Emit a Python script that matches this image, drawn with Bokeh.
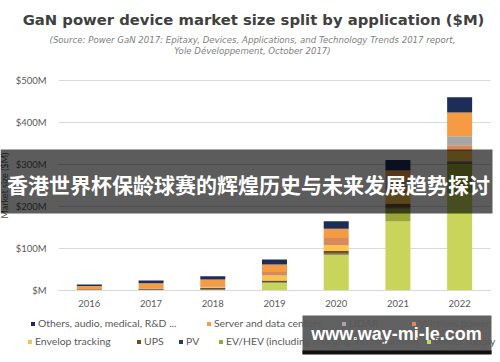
from bokeh.plotting import figure
from bokeh.models import (Range1d, FixedTicker, Label, BoxAnnotation, ColumnDataSource,
                          Legend, LegendItem)
from bokeh.embed import file_html
from bokeh.resources import INLINE

# ---------------- data ----------------
years = ["2016", "2017", "2018", "2019", "2020", "2021", "2022"]
series_names = [
    "Power supply",
    "EV/HEV (including charging infrastructure)",
    "PV",
    "UPS",
    "Envelop tracking",
    "Wireless power",
    "LIDAR",
    "Server and data centers",
    "Others, audio, medical, R&D ...",
]
power_supply = [1, 1, 2, 19, 86, 164, 232]
ev_hev = [0, 0, 0, 0, 0, 31, 70]
pv = [1, 1, 1, 1, 2, 3, 2]
ups = [1, 2, 3, 4, 6, 9, 4]
envelop = [0, 1, 2, 12, 14, 26, 24]
wireless = [0, 1, 2, 8, 17, 17, 14]
lidar = [0, 0, 0, 0, 0, 12, 21]
server = [8, 11, 16, 18, 22, 24, 57]
others = [3, 7, 8, 12, 18, 25, 36]
y_ticks = [0, 100, 200, 300, 400, 500]
y_tick_labels = ["$M", "$100M", "$200M", "$300M", "$400M", "$500M"]

colors = ["#c8d55a", "#9aa736", "#1f3f6e", "#7a4c14", "#f7c54c",
          "#d88a5c", "#a6a6a6", "#f49b43", "#1e2d57"]

title = "GaN power device market size split by application ($M)"
subtitle1 = "(Source: Power GaN 2017: Epitaxy, Devices, Applications, and Technology Trends 2017 report,"
subtitle2 = "Yole D\u00e9veloppement, October 2017)"
banner = "香港世界杯保龄球赛的辉煌历史与未来发展趋势探讨"
watermark = "www.way-mi-le.com"

# ---------------- layout (page pixels) ----------------
W, H = 500, 362
FL, FR, FT, FB = 58, 490, 80, 290            # plotting area inside the page
xnum = [int(y) for y in years]
x0, x1 = xnum[0] - 0.5, xnum[-1] + 0.5
kx = (FR - FL) / (x1 - x0)                  # px per category
ky = (FB - FT) / (y_ticks[-1] - y_ticks[0])  # px per $M
xr = Range1d(x0 - FL / kx, x1 + (W - FR) / kx)
yr = Range1d(y_ticks[0] - (H - FB) / ky, y_ticks[-1] + FT / ky)


def X(px):
    return xr.start + px / kx


def Y(py):
    return yr.end - py / ky


keys = ["ps", "ev", "pv", "ups", "env", "wl", "lidar", "srv", "oth"]
src = ColumnDataSource(dict(x=xnum, ps=power_supply, ev=ev_hev, pv=pv, ups=ups,
                            env=envelop, wl=wireless, lidar=lidar, srv=server, oth=others))

p = figure(x_range=xr, y_range=yr, width=W, height=H,
           output_backend="svg", toolbar_location=None, title_location=None,
           min_border=0, min_border_left=0, min_border_right=0,
           min_border_top=0, min_border_bottom=0)
p.outline_line_color = None
p.background_fill_color = "white"
p.border_fill_color = "white"
p.xgrid.visible = False
p.ygrid.visible = False

# horizontal grid lines across the plotting area
p.segment(x0=[x0] * len(y_ticks), x1=[x1] * len(y_ticks), y0=y_ticks, y1=y_ticks,
          line_color="#d9d9d9", line_width=1.2)

rs = p.vbar_stack(keys, x="x", width=0.405, color=colors, source=src, line_color=None)

# axes pinned to the plotting area
xa, ya = p.xaxis[0], p.yaxis[0]
xa.fixed_location = y_ticks[0]
ya.fixed_location = x0
xa.bounds = (x0, x1)
ya.bounds = (y_ticks[0], y_ticks[-1])
xa.ticker = FixedTicker(ticks=xnum)
xa.major_label_overrides = {n: s for n, s in zip(xnum, years)}
ya.ticker = FixedTicker(ticks=y_ticks)
ya.major_label_overrides = {t: l for t, l in zip(y_ticks, y_tick_labels)}
for ax in (xa, ya):
    ax.major_tick_line_color = None
    ax.minor_tick_line_color = None
    ax.major_label_text_font = "Lato"
    ax.major_label_text_font_size = "9.5px"
    ax.major_label_text_color = "#595959"
ya.axis_line_color = None
ya.major_label_standoff = 6
xa.axis_line_color = "#d9d9d9"
xa.major_label_standoff = 3
ya.axis_label = "Market size ($M)"
ya.axis_label_text_font = "Lato"
ya.axis_label_text_font_style = "normal"
ya.axis_label_text_font_size = "9px"
ya.axis_label_text_color = "#595959"
ya.axis_label_standoff = 3


def lab(px, py, text, size, color, font="Lato", style="normal", align="center"):
    p.add_layout(Label(x=X(px), y=Y(py), text=text, text_font=font,
                       text_font_size=size, text_color=color, text_font_style=style,
                       text_align=align, text_baseline="middle"))


def box(l, t, r, b, color, alpha):
    p.add_layout(BoxAnnotation(left=X(l), right=X(r), top=Y(t), bottom=Y(b),
                               fill_color=color, fill_alpha=alpha, line_color=None))


# titles
lab(253, 19, title, "14.8px", "#404040", font="DejaVu Sans", style="bold")
lab(252, 39, subtitle1, "8.6px", "#808080", font="DejaVu Sans", style="italic")
lab(252, 50, subtitle2, "8.6px", "#808080", font="DejaVu Sans", style="italic")

# legend: Excel-like flow layout, reverse stacking order (marker left edge, row centre)
legend_pos = {8: (30, 323), 7: (206, 323), 6: (341, 323), 5: (411, 323),
              4: (27, 341), 3: (136, 341), 2: (178, 341), 1: (218, 341), 0: (426, 341)}
for i, (lx, ly) in legend_pos.items():
    lg = Legend(items=[LegendItem(label=series_names[i], renderers=[rs[i]])],
                orientation="horizontal", location=(lx, H - ly - 6), spacing=0,
                glyph_width=5, glyph_height=5, label_standoff=3, label_width=0,
                label_height=12, padding=0, margin=0,
                label_text_font="Lato", label_text_font_size="10.4px",
                label_text_color="#595959", border_line_color=None,
                background_fill_alpha=0)
    p.add_layout(lg)

# overlay banner
box(0, 149, 492, 213, "black", 0.64)
lab(248, 183, banner, "21px", "white", font="Noto Sans CJK SC", style="bold")

# watermark box
box(302, 315, 491, 353, "#474747", 0.86)
box(302, 350, 491, 354, "#101010", 1.0)
lab(396, 333, watermark, "18px", "white", font="Liberation Sans", style="bold")

open("out.html", "w").write(file_html(p, INLINE))
